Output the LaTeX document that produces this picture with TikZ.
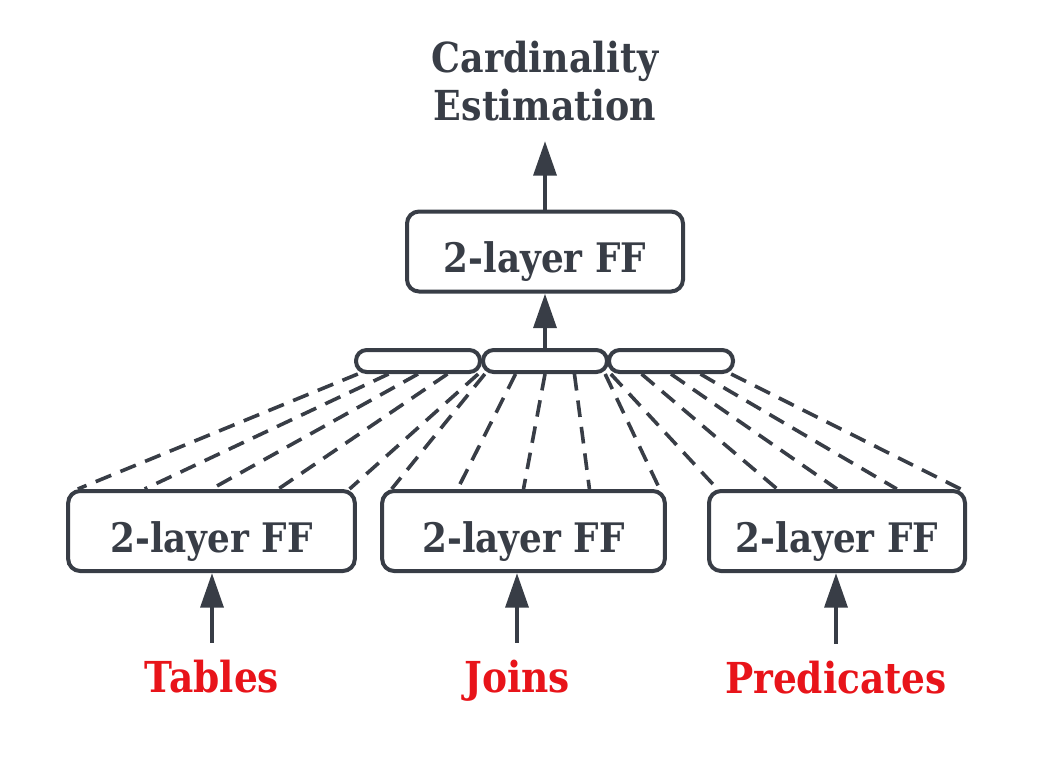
\documentclass[tikz,border=0pt]{standalone}
\usepackage{fontspec}
\setmainfont{DejaVu Serif}[FakeStretch=0.88]
\usetikzlibrary{arrows.meta,calc,backgrounds}
\definecolor{dk}{HTML}{383D46}
\definecolor{rd}{HTML}{E8141A}
\tikzset{
  ffbox/.style={draw=dk, line width=3pt, rounded corners=9pt, fill=white,
    minimum height=60pt, inner sep=0pt, text=dk, font=\bfseries\fontsize{30.5}{36}\selectfont,
    text height=33pt, text depth=1pt},
  barbox/.style={draw=dk, line width=3pt, rounded corners=8pt, fill=white,
    minimum height=16.5pt, minimum width=93pt, inner sep=0pt},
  arr/.style={draw=dk, line width=3.4pt, -{Triangle[length=26pt,width=17pt]}},
  dl/.style={draw=dk, line width=2.7pt, dash pattern=on 12.5pt off 7.5pt},
  inlabel/.style={text=rd, font=\bfseries\fontsize{32}{38}\selectfont, inner sep=0pt,
    text height=23pt, text depth=8pt, outer sep=14pt, anchor=base},
}
\begin{document}
\begin{tikzpicture}[x=0.75pt,y=-0.75pt]
\useasboundingbox (0,0) rectangle (1052,769);
% nodes
\node[anchor=south, align=center, inner sep=0pt, outer sep=15pt, text=dk,
  font=\bfseries\fontsize{31}{36}\selectfont] (title) at (545,141) {Cardinality\\Estimation};
\node[ffbox, minimum width=207pt] (ff) at (545,251.5) {2-layer FF};
\node[barbox] (m1) at (418,361) {};
\node[barbox] (m2) at (545,361) {};
\node[barbox] (m3) at (671,361) {};
\node[ffbox, minimum width=215pt] (b1) at (211.5,531) {2-layer FF};
\node[ffbox, minimum width=212pt] (b2) at (523.5,531) {2-layer FF};
\node[ffbox, minimum width=192pt] (b3) at (837,531) {2-layer FF};
\node[inlabel] (l1) at (212,692) {Tables};
\node[inlabel] (l2) at (517,692) {Joins};
\node[inlabel] (l3) at (836,693) {Predicates};
% dashed connections
\begin{scope}[on background layer]
\foreach \i in {1,2,3}{
  \foreach \f/\g in {0.03/0.04, 0.27/0.27, 0.5/0.5, 0.73/0.73, 0.97/0.975}{
    \draw[dl] ($(m\i.south west)!\f!(m\i.south east)$) -- ($(b\i.north west)!\g!(b\i.north east)$);
  }
}
\end{scope}
% arrows
\draw[arr] (ff.north) -- (title.south);
\draw[arr] (m2.north) -- (ff.south);
\draw[arr] (l1.north) -- (l1.north |- b1.south);
\draw[arr] (l2.north) -- (l2.north |- b2.south);
\draw[arr] (l3.north) -- (l3.north |- b3.south);
\end{tikzpicture}
\end{document}
